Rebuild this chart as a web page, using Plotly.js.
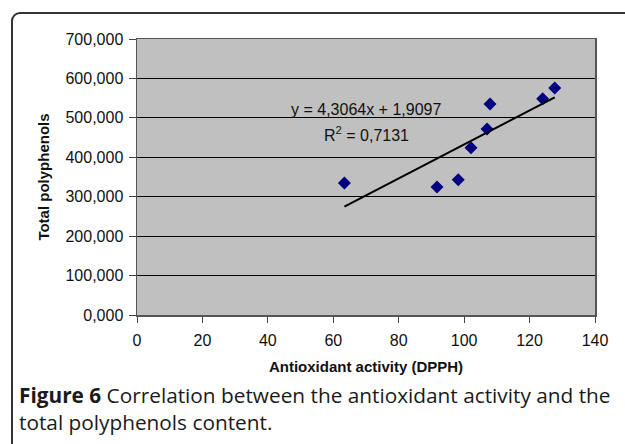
<!DOCTYPE html>
<html>
<head>
<meta charset="utf-8">
<script src="https://cdn.plot.ly/plotly-3.0.1.min.js"></script>
<style>
  html, body { margin: 0; padding: 0; background: #fff; overflow: hidden; }
  #wrap { position: relative; width: 625px; height: 444px; overflow: hidden; }
  #frame { position: absolute; left: 11px; top: 12px; width: 700px; height: 500px;
           border: 2px solid #333; border-radius: 9px; box-sizing: border-box; }
  #chart { position: absolute; left: 0; top: 0; width: 625px; height: 444px; }
</style>
</head>
<body>
<div id="wrap">
  <div id="frame"></div>
  <div id="chart"></div>
</div>
<script>
// Data
const antioxidant = [63.4, 91.7, 98.2, 102.1, 107.0, 107.9, 124.0, 127.7];
const polyphenols = [334.5, 324.4, 342.9, 424.0, 471.6, 535.0, 548.5, 575.6];
const trendSlope = 4.3064;
const trendIntercept = 1.9097;
const equationText = 'y = 4,3064x + 1,9097';
const r2Text = 'R<sup>2</sup> = 0,7131';
const xTitle = 'Antioxidant activity (DPPH)';
const yTitle = 'Total polyphenols';
const captionLine1 = '<b>Figure 6</b> Correlation between the antioxidant activity and the';
const captionLine2 = 'total polyphenols content.';

// Layout geometry (pixels)
const W = 625, H = 444;
const M = { l: 137, r: 30, t: 39, b: 129 };
const PW = W - M.l - M.r, PH = H - M.t - M.b;
const px = v => (v - M.l) / PW;
const py = v => (M.t + PH - v) / PH;

const tMin = Math.min(...antioxidant), tMax = Math.max(...antioxidant);
const trendX = [tMin, tMax];
const trendY = trendX.map(x => trendSlope * x + trendIntercept);

const arial = 'Liberation Sans, Arial, sans-serif';
const capFont = 'Open Sans, Noto Sans, sans-serif';

const traces = [
  {
    x: antioxidant, y: polyphenols, type: 'scatter', mode: 'markers',
    marker: { symbol: 'diamond', size: 10, color: '#000080', line: { width: 0 } },
    hoverinfo: 'skip'
  },
  {
    x: trendX, y: trendY, type: 'scatter', mode: 'lines',
    line: { color: '#000', width: 2 }, hoverinfo: 'skip'
  }
];

const layout = {
  width: W, height: H,
  margin: M,
  separators: ',.',
  paper_bgcolor: 'rgba(0,0,0,0)',
  plot_bgcolor: '#c0c0c0',
  showlegend: false,
  font: { family: arial, size: 16, color: '#111' },
  xaxis: {
    range: [0, 140], tick0: 0, dtick: 20, showgrid: false, zeroline: false,
    ticks: 'outside', ticklen: 6, tickcolor: '#444', tickwidth: 1,
    showline: true, linecolor: '#555', linewidth: 1.5, mirror: true,
    tickfont: { family: arial, size: 16, color: '#111' },
    ticklabelstandoff: 4,
    title: { text: xTitle, font: { family: arial, size: 15, color: '#111', weight: 'bold' }, standoff: 14 }
  },
  yaxis: {
    range: [0, 700], tick0: 0, dtick: 100, tickformat: '.3f',
    showgrid: true, gridcolor: '#000', gridwidth: 1, zeroline: false,
    ticks: 'outside', ticklen: 7, tickcolor: '#444', tickwidth: 1,
    showline: true, linecolor: '#555', linewidth: 1.5, mirror: true,
    tickfont: { family: arial, size: 16, color: '#111' },
    ticklabelstandoff: 2,
    title: { text: yTitle, font: { family: arial, size: 15, color: '#111', weight: 'bold' }, standoff: 12 }
  },
  annotations: [
    { xref: 'paper', yref: 'paper', x: px(365.5), y: py(109), text: equationText,
      showarrow: false, xanchor: 'center', yanchor: 'middle',
      font: { family: arial, size: 16, color: '#111' } },
    { xref: 'paper', yref: 'paper', x: px(366), y: py(134), text: r2Text,
      showarrow: false, xanchor: 'center', yanchor: 'middle',
      font: { family: arial, size: 16, color: '#111' } },
    { xref: 'paper', yref: 'paper', x: px(17), y: py(408), text: captionLine1 + '<br>' + captionLine2,
      showarrow: false, xanchor: 'left', yanchor: 'middle', align: 'left',
      font: { family: capFont, size: 20.8, color: '#1a1a1a' } }
  ]
};

Plotly.newPlot('chart', traces, layout, { staticPlot: true, displayModeBar: false });
</script>
</body>
</html>
